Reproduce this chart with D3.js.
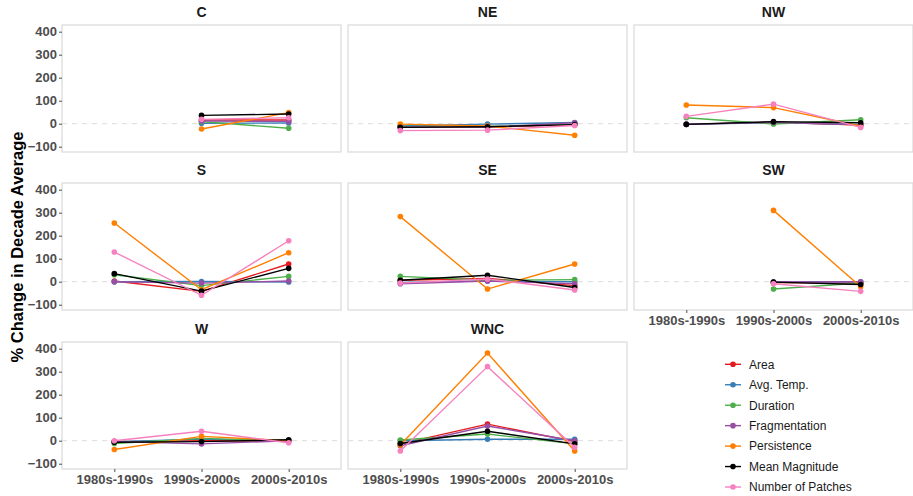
<!DOCTYPE html>
<html><head><meta charset="utf-8">
<script src="https://cdn.jsdelivr.net/npm/d3@7"></script>
<style>
html,body{margin:0;padding:0;background:#fff;}
svg text{font-family:"Liberation Sans",Arial,sans-serif;}
</style></head>
<body><svg id="chart" width="913" height="496"></svg>
<script>
const periods = ["1980s-1990s","1990s-2000s","2000s-2010s"];
const metrics = ["Area","Avg. Temp.","Duration","Fragmentation","Persistence","Mean Magnitude","Number of Patches"];
const colors = ["#E41A1C","#377EB8","#4DAF4A","#984EA3","#FF7F00","#000000","#F781BF"];
const regions = ["C","NE","NW","S","SE","SW","W","WNC"];
const yTicks = [-100,0,100,200,300,400];

// rows follow metrics order; columns follow periods
const C   = [[null,16,16],[null,2,3],[null,9,-20],[null,12,10],[null,-23,48],[null,36,42],[null,19,26]];
const NE  = [[-13,-14,-5],[-10,-2,5],[-12,-12,-3],[-14,-15,4],[-2,-10,-50],[-16,-13,-4],[-30,-28,-8]];
const NW  = [[-3,6,-6],[-3,5,-4],[26,-1,17],[-2,6,-5],[81,70,-10],[-3,9,4],[32,85,-16]];
const S   = [[3,-42,77],[0,1,-1],[30,-17,23],[0,-6,3],[255,-35,126],[35,-41,58],[129,-59,178]];
const SE  = [[6,14,-17],[-3,3,0],[23,6,9],[-9,3,-9],[283,-32,77],[6,28,-25],[-6,12,-36]];
const SW  = [[null,-4,-6],[null,-1,0],[null,-32,-6],[null,-1,0],[null,310,-22],[null,-2,-12],[null,-9,-42]];
const W   = [[-4,0,0],[-4,7,0],[-12,10,0],[-4,-14,0],[-38,19,0],[-7,-4,4],[0,41,-9]];
const WNC = [[-14,72,-4],[0,6,6],[3,29,-14],[-22,64,0],[-19,381,-45],[-12,41,-14],[-45,322,-29]];
const regionData = {C,NE,NW,S,SE,SW,W,WNC};

const svg = d3.select("#chart");
const colL = [62,348,634], panelW = 279;
const rowT = [25,183,342], panelH = 127;
const yDomain = [-123,429];

regions.forEach((reg,i)=>{
  const r = Math.floor(i/3), c = i%3;
  const x0 = colL[c], y0 = rowT[r];
  const g = svg.append("g").attr("transform",`translate(${x0},${y0})`);
  const x = d3.scalePoint().domain(periods).range([0,panelW]).padding(0.6);
  const y = d3.scaleLinear().domain(yDomain).range([panelH,0]);
  g.append("line").attr("x1",0).attr("x2",panelW).attr("y1",y(0)).attr("y2",y(0))
    .attr("stroke","#dcdcdc").attr("stroke-width",1).attr("stroke-dasharray","5,5");
  svg.append("text").attr("x",x0+panelW/2).attr("y",y0-8).attr("text-anchor","middle")
    .attr("font-size",14).attr("font-weight","bold").attr("fill","#1a1a1a").text(reg);
  const data = regionData[reg];
  const line = d3.line().defined(d=>d.v!==null).x(d=>x(d.p)).y(d=>y(d.v));
  data.forEach((vals,mi)=>{
    const pts = vals.map((v,k)=>({p:periods[k],v}));
    g.append("path").datum(pts).attr("d",line).attr("fill","none")
      .attr("stroke",colors[mi]).attr("stroke-width",1.4);
    g.selectAll(null).data(pts.filter(d=>d.v!==null)).enter().append("circle")
      .attr("cx",d=>x(d.p)).attr("cy",d=>y(d.v)).attr("r",2.8).attr("fill",colors[mi]);
  });
  g.append("rect").attr("x",0).attr("y",0).attr("width",panelW).attr("height",panelH)
    .attr("fill","none").attr("stroke","#d9d9d9").attr("stroke-width",1.2);
  if(c===0){
    const ya = g.append("g").call(d3.axisLeft(y).tickValues(yTicks).tickSize(3).tickPadding(2).tickFormat(d3.format("d")));
    ya.select(".domain").remove();
    ya.selectAll("line").attr("stroke","#4d4d4d");
    ya.selectAll("text").attr("font-size",13).attr("font-weight","bold").attr("fill","#4d4d4d")
      .attr("font-family","Liberation Sans, Arial, sans-serif");
  }
  if(r===2 || (r===1 && c===2)){
    const xa = g.append("g").attr("transform",`translate(0,${panelH})`)
      .call(d3.axisBottom(x).tickSize(3).tickPadding(3));
    xa.select(".domain").remove();
    xa.selectAll("line").attr("stroke","#4d4d4d");
    xa.selectAll("text").attr("font-size",13).attr("font-weight","bold").attr("fill","#4d4d4d")
      .attr("font-family","Liberation Sans, Arial, sans-serif");
  }
});

svg.append("text").attr("transform","translate(23,247) rotate(-90)").attr("text-anchor","middle")
  .attr("font-size",16.5).attr("font-weight","bold").attr("fill","#000").text("% Change in Decade Average");

const lg = svg.append("g");
metrics.forEach((m,i)=>{
  const yy = 364.3 + i*20.45;
  lg.append("line").attr("x1",725).attr("x2",741).attr("y1",yy).attr("y2",yy)
    .attr("stroke",colors[i]).attr("stroke-width",1.4);
  lg.append("circle").attr("cx",733).attr("cy",yy).attr("r",2.8).attr("fill",colors[i]);
  lg.append("text").attr("x",749).attr("y",yy).attr("dy","0.36em").attr("font-size",12)
    .attr("fill","#1a1a1a").text(m);
});
</script></body></html>
